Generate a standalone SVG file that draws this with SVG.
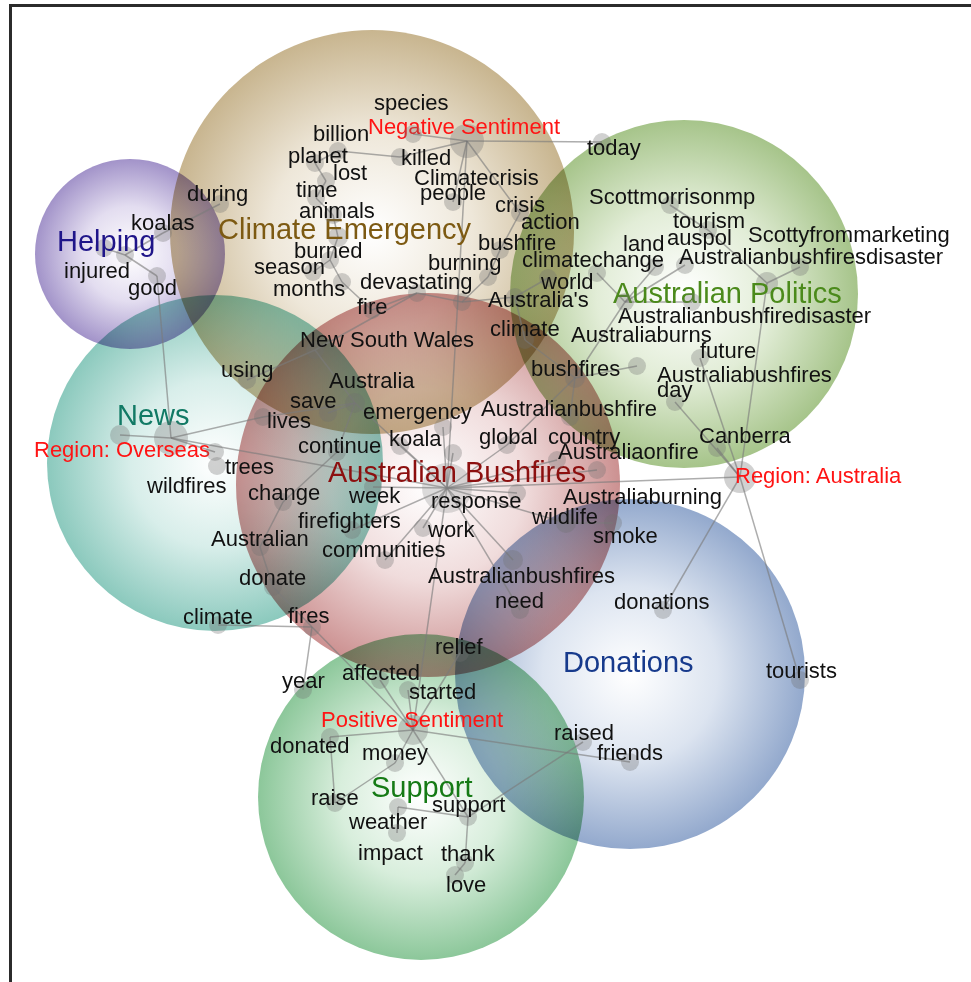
<svg xmlns="http://www.w3.org/2000/svg" width="971" height="982" viewBox="0 0 971 982">
<style>
.bg{mix-blend-mode:multiply}
text{font-family:"Liberation Sans",Arial,sans-serif;font-size:22px;fill:#111}
.s{fill:#ff1414}
.t{font-size:29px}
.d{fill:#707070;fill-opacity:.32}
.h{fill:#8a8a8a;fill-opacity:.3}
#edges line{stroke:#7a7a7a;stroke-width:1.5;stroke-opacity:.62}
</style>
<defs>
<radialGradient id="gPur"><stop offset="0" stop-color="#fff"/><stop offset="0.5" stop-color="#e3ddf0"/><stop offset="1" stop-color="#a293c9"/></radialGradient>
<radialGradient id="gTan"><stop offset="0" stop-color="#fff"/><stop offset="0.5" stop-color="#eee7d9"/><stop offset="1" stop-color="#c8b58f"/></radialGradient>
<radialGradient id="gOli"><stop offset="0" stop-color="#fff"/><stop offset="0.5" stop-color="#e2edd7"/><stop offset="1" stop-color="#a6c48a"/></radialGradient>
<radialGradient id="gTeal"><stop offset="0" stop-color="#fff"/><stop offset="0.5" stop-color="#d8eeea"/><stop offset="1" stop-color="#8bc9bd"/></radialGradient>
<radialGradient id="gRed"><stop offset="0" stop-color="#fff"/><stop offset="0.5" stop-color="#f0dcdc"/><stop offset="1" stop-color="#cc9191"/></radialGradient>
<radialGradient id="gBlue"><stop offset="0" stop-color="#fff"/><stop offset="0.5" stop-color="#dce4f0"/><stop offset="1" stop-color="#93a9cd"/></radialGradient>
<radialGradient id="gGrn"><stop offset="0" stop-color="#fff"/><stop offset="0.5" stop-color="#d8eedc"/><stop offset="1" stop-color="#8cc79a"/></radialGradient>
</defs>
<rect x="0" y="0" width="971" height="982" fill="#fff"/>
<g id="regions">
<circle class="bg" cx="130" cy="254" r="95" fill="url(#gPur)"/>
<circle class="bg" cx="372" cy="232" r="202" fill="url(#gTan)"/>
<circle class="bg" cx="684" cy="294" r="174" fill="url(#gOli)"/>
<circle class="bg" cx="215" cy="463" r="168" fill="url(#gTeal)"/>
<circle class="bg" cx="428" cy="485" r="192" fill="url(#gRed)"/>
<circle class="bg" cx="630" cy="674" r="175" fill="url(#gBlue)"/>
<circle class="bg" cx="421" cy="797" r="163" fill="url(#gGrn)"/>
</g>
<rect x="10.5" y="5.5" width="1000" height="1000" fill="none" stroke="#2b2b2b" stroke-width="3"/>
<g id="edges">
<line x1="220" y1="204" x2="163" y2="233"/>
<line x1="163" y1="233" x2="125" y2="255"/>
<line x1="104" y1="248" x2="125" y2="255"/>
<line x1="125" y1="255" x2="157" y2="276"/>
<line x1="157" y1="276" x2="171" y2="438"/>
<line x1="120" y1="435" x2="171" y2="438"/>
<line x1="171" y1="438" x2="263" y2="417"/>
<line x1="171" y1="438" x2="215" y2="452"/>
<line x1="171" y1="438" x2="447" y2="488"/>
<line x1="338" y1="151" x2="315" y2="163"/>
<line x1="338" y1="151" x2="400" y2="157"/>
<line x1="315" y1="163" x2="326" y2="181"/>
<line x1="326" y1="181" x2="316" y2="198"/>
<line x1="316" y1="198" x2="333" y2="215"/>
<line x1="333" y1="215" x2="338" y2="237"/>
<line x1="338" y1="237" x2="330" y2="260"/>
<line x1="330" y1="260" x2="313" y2="272"/>
<line x1="330" y1="260" x2="342" y2="282"/>
<line x1="342" y1="282" x2="372" y2="310"/>
<line x1="372" y1="310" x2="417" y2="293"/>
<line x1="417" y1="293" x2="462" y2="302"/>
<line x1="462" y1="302" x2="515" y2="297"/>
<line x1="467" y1="141" x2="413" y2="134"/>
<line x1="467" y1="141" x2="400" y2="157"/>
<line x1="467" y1="141" x2="602" y2="142"/>
<line x1="467" y1="141" x2="453" y2="202"/>
<line x1="467" y1="141" x2="520" y2="213"/>
<line x1="467" y1="141" x2="447" y2="488"/>
<line x1="520" y1="213" x2="500" y2="250"/>
<line x1="500" y1="250" x2="488" y2="277"/>
<line x1="488" y1="277" x2="462" y2="302"/>
<line x1="247" y1="380" x2="315" y2="350"/>
<line x1="315" y1="350" x2="417" y2="293"/>
<line x1="315" y1="350" x2="355" y2="403"/>
<line x1="355" y1="403" x2="328" y2="413"/>
<line x1="355" y1="403" x2="263" y2="417"/>
<line x1="355" y1="403" x2="447" y2="488"/>
<line x1="355" y1="403" x2="337" y2="452"/>
<line x1="515" y1="297" x2="525" y2="340"/>
<line x1="525" y1="340" x2="575" y2="378"/>
<line x1="515" y1="297" x2="548" y2="278"/>
<line x1="670" y1="205" x2="708" y2="230"/>
<line x1="708" y1="230" x2="767" y2="283"/>
<line x1="800" y1="267" x2="767" y2="283"/>
<line x1="767" y1="283" x2="740" y2="477"/>
<line x1="685" y1="265" x2="625" y2="302"/>
<line x1="655" y1="267" x2="625" y2="302"/>
<line x1="597" y1="273" x2="625" y2="302"/>
<line x1="625" y1="302" x2="575" y2="378"/>
<line x1="625" y1="302" x2="692" y2="302"/>
<line x1="575" y1="378" x2="637" y2="366"/>
<line x1="575" y1="378" x2="570" y2="417"/>
<line x1="575" y1="378" x2="507" y2="445"/>
<line x1="507" y1="445" x2="447" y2="488"/>
<line x1="700" y1="358" x2="740" y2="477"/>
<line x1="675" y1="402" x2="740" y2="477"/>
<line x1="717" y1="448" x2="740" y2="477"/>
<line x1="447" y1="488" x2="740" y2="477"/>
<line x1="740" y1="477" x2="663" y2="610"/>
<line x1="740" y1="477" x2="800" y2="680"/>
<line x1="447" y1="488" x2="400" y2="446"/>
<line x1="447" y1="488" x2="453" y2="453"/>
<line x1="447" y1="488" x2="443" y2="427"/>
<line x1="447" y1="488" x2="557" y2="460"/>
<line x1="447" y1="488" x2="597" y2="470"/>
<line x1="447" y1="488" x2="517" y2="493"/>
<line x1="447" y1="488" x2="566" y2="523"/>
<line x1="447" y1="488" x2="513" y2="560"/>
<line x1="447" y1="488" x2="520" y2="610"/>
<line x1="447" y1="488" x2="423" y2="528"/>
<line x1="447" y1="488" x2="373" y2="487"/>
<line x1="447" y1="488" x2="352" y2="530"/>
<line x1="447" y1="488" x2="385" y2="560"/>
<line x1="447" y1="488" x2="413" y2="730"/>
<line x1="566" y1="523" x2="613" y2="523"/>
<line x1="283" y1="502" x2="260" y2="547"/>
<line x1="260" y1="547" x2="273" y2="587"/>
<line x1="273" y1="587" x2="312" y2="627"/>
<line x1="218" y1="625" x2="312" y2="627"/>
<line x1="312" y1="627" x2="303" y2="690"/>
<line x1="312" y1="627" x2="413" y2="730"/>
<line x1="283" y1="502" x2="337" y2="452"/>
<line x1="413" y1="730" x2="380" y2="680"/>
<line x1="413" y1="730" x2="408" y2="690"/>
<line x1="413" y1="730" x2="460" y2="653"/>
<line x1="413" y1="730" x2="395" y2="763"/>
<line x1="413" y1="730" x2="330" y2="737"/>
<line x1="413" y1="730" x2="468" y2="817"/>
<line x1="413" y1="730" x2="630" y2="762"/>
<line x1="330" y1="737" x2="335" y2="803"/>
<line x1="395" y1="763" x2="335" y2="803"/>
<line x1="583" y1="742" x2="468" y2="817"/>
<line x1="398" y1="807" x2="468" y2="817"/>
<line x1="398" y1="807" x2="397" y2="833"/>
<line x1="468" y1="817" x2="465" y2="863"/>
<line x1="465" y1="863" x2="455" y2="875"/>
</g>
<g id="cluster-labels">
<g id="c-helping"><circle class="d" cx="104" cy="248" r="9"/><circle class="d" cx="125" cy="255" r="9"/><text class="t" x="57" y="251" style="fill:#1f1589">Helping</text></g>
<g id="c-climate"><circle class="d" cx="338" cy="237" r="10"/><text class="t" x="218" y="239" style="fill:#7d5a12">Climate Emergency</text></g>
<g id="c-politics"><circle class="d" cx="767" cy="283" r="11"/><text class="t" x="613" y="303" style="fill:#4b8a1b">Australian Politics</text></g>
<g id="c-news"><text class="t" x="117" y="425" style="fill:#117a65">News</text></g>
<g id="c-bushfires"><circle class="h" cx="447" cy="488" r="25"/><circle class="d" cx="453" cy="453" r="9"/><text class="t" x="328" y="482" style="fill:#8c0f0f">Australian Bushfires</text></g>
<g id="c-donations"><text class="t" x="563" y="672" style="fill:#173a8c">Donations</text></g>
<g id="c-support"><text class="t" x="371" y="797" style="fill:#157a15">Support</text></g>
</g>
<g id="hubs">
<g id="n-neg"><circle class="d" cx="467" cy="141" r="17"/><text class="s" x="368" y="134">Negative Sentiment</text></g>
<g id="n-ovs"><circle class="d" cx="171" cy="438" r="17"/><circle class="d" cx="120" cy="435" r="10"/><text class="s" x="34" y="457">Region: Overseas</text></g>
<g id="n-aus"><circle class="d" cx="740" cy="477" r="16"/><text class="s" x="735" y="483">Region: Australia</text></g>
<g id="n-pos"><circle class="d" cx="413" cy="730" r="15"/><text class="s" x="321" y="727">Positive Sentiment</text></g>
</g>
<g id="words">
<g id="n-species"><circle class="d" cx="413" cy="134" r="9"/><text x="374" y="110">species</text></g>
<g id="n-billion"><circle class="d" cx="338" cy="151" r="9"/><text x="313" y="141">billion</text></g>
<g id="n-planet"><circle class="d" cx="315" cy="163" r="9"/><text x="288" y="163">planet</text></g>
<g id="n-killed"><circle class="d" cx="400" cy="157" r="9"/><text x="401" y="165">killed</text></g>
<g id="n-today"><circle class="d" cx="602" cy="142" r="9"/><text x="587" y="155">today</text></g>
<g id="n-lost"><circle class="d" cx="326" cy="181" r="9"/><text x="333" y="180">lost</text></g>
<g id="n-climatecrisis"><text x="414" y="185">Climatecrisis</text></g>
<g id="n-time"><circle class="d" cx="316" cy="198" r="9"/><text x="296" y="197">time</text></g>
<g id="n-people"><circle class="d" cx="453" cy="202" r="9"/><text x="420" y="200">people</text></g>
<g id="n-crisis"><circle class="d" cx="520" cy="213" r="9"/><text x="495" y="212">crisis</text></g>
<g id="n-animals"><circle class="d" cx="333" cy="215" r="9"/><text x="299" y="218">animals</text></g>
<g id="n-action"><text x="521" y="229">action</text></g>
<g id="n-during"><circle class="d" cx="220" cy="204" r="9"/><text x="187" y="201">during</text></g>
<g id="n-koalas"><circle class="d" cx="163" cy="233" r="9"/><text x="131" y="230">koalas</text></g>
<g id="n-injured"><text x="64" y="278">injured</text></g>
<g id="n-good"><circle class="d" cx="157" cy="276" r="9"/><text x="128" y="295">good</text></g>
<g id="n-scottm"><circle class="d" cx="670" cy="205" r="9"/><text x="589" y="204">Scottmorrisonmp</text></g>
<g id="n-tourism"><circle class="d" cx="708" cy="230" r="9"/><text x="673" y="228">tourism</text></g>
<g id="n-scotty"><circle class="d" cx="800" cy="267" r="9"/><text x="748" y="242">Scottyfrommarketing</text></g>
<g id="n-land"><circle class="d" cx="655" cy="267" r="9"/><text x="623" y="251">land</text></g>
<g id="n-auspol"><circle class="d" cx="685" cy="265" r="9"/><text x="667" y="245">auspol</text></g>
<g id="n-absd"><text x="679" y="264">Australianbushfiresdisaster</text></g>
<g id="n-bushfire"><circle class="d" cx="500" cy="250" r="9"/><text x="478" y="250">bushfire</text></g>
<g id="n-climatechange"><circle class="d" cx="597" cy="273" r="9"/><text x="522" y="267">climatechange</text></g>
<g id="n-burning"><circle class="d" cx="488" cy="277" r="9"/><text x="428" y="270">burning</text></g>
<g id="n-burned"><circle class="d" cx="330" cy="260" r="9"/><text x="294" y="258">burned</text></g>
<g id="n-season"><circle class="d" cx="313" cy="272" r="9"/><text x="254" y="274">season</text></g>
<g id="n-world"><circle class="d" cx="548" cy="278" r="9"/><text x="541" y="289">world</text></g>
<g id="n-months"><circle class="d" cx="342" cy="282" r="9"/><text x="273" y="296">months</text></g>
<g id="n-devastating"><circle class="d" cx="417" cy="293" r="9"/><circle class="d" cx="462" cy="302" r="9"/><text x="360" y="289">devastating</text></g>
<g id="n-australias"><circle class="d" cx="515" cy="297" r="9"/><text x="488" y="307">Australia's</text></g>
<g id="n-fire"><circle class="d" cx="372" cy="310" r="9"/><text x="357" y="314">fire</text></g>
<g id="n-abfd"><circle class="d" cx="692" cy="302" r="9"/><text x="618" y="323">Australianbushfiredisaster</text></g>
<g id="n-climateU"><circle class="d" cx="525" cy="340" r="9"/><text x="490" y="336">climate</text></g>
<g id="n-aburns"><circle class="d" cx="625" cy="302" r="9"/><text x="571" y="342">Australiaburns</text></g>
<g id="n-nsw"><circle class="d" cx="315" cy="350" r="9"/><text x="300" y="347">New South Wales</text></g>
<g id="n-future"><circle class="d" cx="700" cy="358" r="9"/><text x="700" y="358">future</text></g>
<g id="n-using"><circle class="d" cx="247" cy="380" r="9"/><text x="221" y="377">using</text></g>
<g id="n-australia"><circle class="d" cx="355" cy="403" r="10"/><text x="329" y="388">Australia</text></g>
<g id="n-bushfires"><circle class="d" cx="575" cy="378" r="10"/><text x="531" y="376">bushfires</text></g>
<g id="n-abushfires"><circle class="d" cx="637" cy="366" r="9"/><text x="657" y="382">Australiabushfires</text></g>
<g id="n-save"><circle class="d" cx="328" cy="413" r="9"/><text x="290" y="408">save</text></g>
<g id="n-day"><circle class="d" cx="675" cy="402" r="9"/><text x="657" y="397">day</text></g>
<g id="n-emergency"><circle class="d" cx="443" cy="427" r="9"/><text x="363" y="419">emergency</text></g>
<g id="n-abushfire"><circle class="d" cx="570" cy="417" r="9"/><text x="481" y="416">Australianbushfire</text></g>
<g id="n-lives"><circle class="d" cx="263" cy="417" r="9"/><text x="267" y="428">lives</text></g>
<g id="n-koala"><circle class="d" cx="400" cy="446" r="9"/><text x="389" y="446">koala</text></g>
<g id="n-global"><circle class="d" cx="507" cy="445" r="9"/><text x="479" y="444">global</text></g>
<g id="n-country"><circle class="d" cx="557" cy="460" r="9"/><text x="548" y="444">country</text></g>
<g id="n-canberra"><circle class="d" cx="717" cy="448" r="9"/><text x="699" y="443">Canberra</text></g>
<g id="n-continue"><circle class="d" cx="337" cy="452" r="9"/><text x="298" y="453">continue</text></g>
<g id="n-aonfire"><circle class="d" cx="597" cy="470" r="9"/><text x="558" y="459">Australiaonfire</text></g>
<g id="n-trees"><circle class="d" cx="215" cy="452" r="9"/><text x="225" y="474">trees</text></g>
<g id="n-wildfires"><circle class="d" cx="217" cy="466" r="9"/><text x="147" y="493">wildfires</text></g>
<g id="n-change"><circle class="d" cx="283" cy="502" r="9"/><text x="248" y="500">change</text></g>
<g id="n-week"><circle class="d" cx="373" cy="487" r="9"/><text x="349" y="503">week</text></g>
<g id="n-response"><circle class="d" cx="517" cy="493" r="9"/><text x="431" y="508">response</text></g>
<g id="n-aburning"><text x="563" y="504">Australiaburning</text></g>
<g id="n-firefighters"><circle class="d" cx="352" cy="530" r="9"/><text x="298" y="528">firefighters</text></g>
<g id="n-wildlife"><circle class="d" cx="566" cy="523" r="10"/><text x="532" y="524">wildlife</text></g>
<g id="n-work"><circle class="d" cx="423" cy="528" r="9"/><text x="428" y="537">work</text></g>
<g id="n-smoke"><circle class="d" cx="613" cy="523" r="9"/><text x="593" y="543">smoke</text></g>
<g id="n-australian"><circle class="d" cx="260" cy="547" r="9"/><text x="211" y="546">Australian</text></g>
<g id="n-communities"><circle class="d" cx="385" cy="560" r="9"/><text x="322" y="557">communities</text></g>
<g id="n-donate"><circle class="d" cx="273" cy="587" r="9"/><text x="239" y="585">donate</text></g>
<g id="n-abushfiresL"><circle class="d" cx="513" cy="560" r="10"/><text x="428" y="583">Australianbushfires</text></g>
<g id="n-need"><circle class="d" cx="520" cy="610" r="9"/><text x="495" y="608">need</text></g>
<g id="n-donations"><circle class="d" cx="663" cy="610" r="9"/><text x="614" y="609">donations</text></g>
<g id="n-climateL"><circle class="d" cx="218" cy="625" r="9"/><text x="183" y="624">climate</text></g>
<g id="n-fires"><circle class="d" cx="312" cy="627" r="9"/><text x="288" y="623">fires</text></g>
<g id="n-relief"><circle class="d" cx="460" cy="653" r="9"/><text x="435" y="654">relief</text></g>
<g id="n-tourists"><circle class="d" cx="800" cy="680" r="9"/><text x="766" y="678">tourists</text></g>
<g id="n-affected"><circle class="d" cx="380" cy="680" r="9"/><text x="342" y="680">affected</text></g>
<g id="n-year"><circle class="d" cx="303" cy="690" r="9"/><text x="282" y="688">year</text></g>
<g id="n-started"><circle class="d" cx="408" cy="690" r="9"/><text x="409" y="699">started</text></g>
<g id="n-raised"><circle class="d" cx="583" cy="742" r="9"/><text x="554" y="740">raised</text></g>
<g id="n-donated"><circle class="d" cx="330" cy="737" r="9"/><text x="270" y="753">donated</text></g>
<g id="n-money"><circle class="d" cx="395" cy="763" r="9"/><text x="362" y="760">money</text></g>
<g id="n-friends"><circle class="d" cx="630" cy="762" r="9"/><text x="597" y="760">friends</text></g>
<g id="n-raise"><circle class="d" cx="335" cy="803" r="9"/><text x="311" y="805">raise</text></g>
<g id="n-support"><circle class="d" cx="468" cy="817" r="9"/><text x="432" y="812">support</text></g>
<g id="n-weather"><circle class="d" cx="398" cy="807" r="9"/><text x="349" y="829">weather</text></g>
<g id="n-impact"><circle class="d" cx="397" cy="833" r="9"/><text x="358" y="860">impact</text></g>
<g id="n-thank"><circle class="d" cx="465" cy="863" r="9"/><text x="441" y="861">thank</text></g>
<g id="n-love"><circle class="d" cx="455" cy="875" r="9"/><text x="446" y="892">love</text></g>
</g>
</svg>
